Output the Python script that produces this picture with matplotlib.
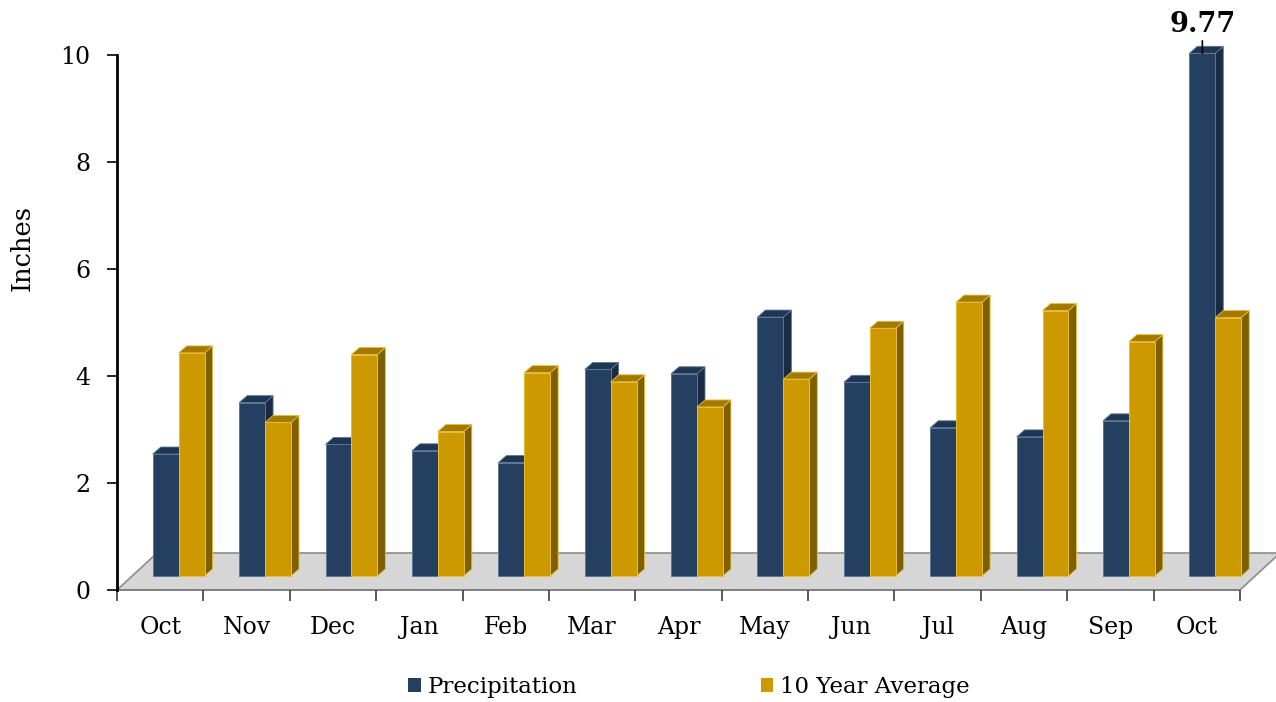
import matplotlib
matplotlib.use('Agg')
import matplotlib.pyplot as plt
from matplotlib.patches import Polygon, Patch
from matplotlib.transforms import ScaledTranslation, IdentityTransform
import numpy as np

# monthly rainfall, inches
months = ['Oct', 'Nov', 'Dec', 'Jan', 'Feb', 'Mar', 'Apr',
          'May', 'Jun', 'Jul', 'Aug', 'Sep', 'Oct']
precipitation = [2.28, 3.24, 2.46, 2.34, 2.12, 3.86, 3.78,
                 4.84, 3.62, 2.77, 2.60, 2.90, 9.77]
ten_year_avg = [4.17, 2.87, 4.14, 2.70, 3.80, 3.63, 3.16,
                3.68, 4.63, 5.12, 4.96, 4.38, 4.83]
y_ticks = [0, 2, 4, 6, 8, 10]

NAVY = {'front': '#243F60', 'top': '#1E3553', 'side': '#192C44', 'edge': '#5D7797'}
GOLD = {'front': '#CC9900', 'top': '#A27A00', 'side': '#7F6000', 'edge': '#E8BC3A'}

FONT = 'DejaVu Serif'
W, H = 1276, 702
fig = plt.figure(figsize=(W / 100, H / 100), dpi=100)
ax = fig.add_axes([117 / W, (H - 590) / H, (1240 - 117) / W, (590 - 55) / H])
ax.set_xlim(0, len(months))
ax.set_ylim(0, 10)

# pseudo-3d geometry in pixels
BAR_DX, BAR_DY = 18.5, 14    # bars sit part way back on the floor
DEPTH_DX, DEPTH_DY = 8, 7    # depth of each bar
FLOOR_DX, FLOOR_DY = 40, 37  # depth of the floor
BAR_W = 0.3


def shifted(dx, dy):
    return ax.transData + ScaledTranslation(dx / fig.dpi, dy / fig.dpi, fig.dpi_scale_trans)


bar_tr = shifted(BAR_DX, BAR_DY)


def to_px(x, y, dx=0, dy=0):
    p = bar_tr.transform((x, y))
    return (p[0] + dx, p[1] + dy)


# floor
f0 = ax.transData.transform((0, 0))
f1 = ax.transData.transform((len(months), 0))
floor = Polygon([f0, f1, (f1[0] + FLOOR_DX, f1[1] + FLOOR_DY),
                 (f0[0] + FLOOR_DX, f0[1] + FLOOR_DY)],
                closed=True, facecolor='#D6D6D6', edgecolor='#8C8C8C', lw=1.2,
                transform=IdentityTransform(), clip_on=False, zorder=1)
ax.add_patch(floor)


def draw_bar(x0, h, col, z):
    x1 = x0 + BAR_W
    ax.bar(x0, h, width=BAR_W, align='edge', color=col['front'],
           edgecolor=col['edge'], linewidth=0.7, transform=bar_tr,
           clip_on=False, zorder=z + 0.2)
    side = [to_px(x1, 0), to_px(x1, 0, DEPTH_DX, DEPTH_DY),
            to_px(x1, h, DEPTH_DX, DEPTH_DY), to_px(x1, h)]
    top = [to_px(x0, h), to_px(x1, h), to_px(x1, h, DEPTH_DX, DEPTH_DY),
           to_px(x0, h, DEPTH_DX, DEPTH_DY)]
    ax.add_patch(Polygon(side, closed=True, facecolor=col['side'], edgecolor=col['edge'],
                         lw=0.6, transform=IdentityTransform(), clip_on=False, zorder=z))
    ax.add_patch(Polygon(top, closed=True, facecolor=col['top'], edgecolor=col['edge'],
                         lw=0.6, transform=IdentityTransform(), clip_on=False, zorder=z + 0.1))


for i in range(len(months)):
    draw_bar(i + 0.2, precipitation[i], NAVY, 2 + i)
    draw_bar(i + 0.5, ten_year_avg[i], GOLD, 2.5 + i)

# value callout on the last bar
ax.annotate(f'{precipitation[-1]:.2f}', xy=(12.35, precipitation[-1]), xycoords=bar_tr,
            xytext=(0, 11), textcoords='offset points', ha='center', va='bottom',
            fontsize=19.5, fontweight='bold', family=FONT,
            arrowprops=dict(arrowstyle='-', color='black', lw=1.2, shrinkA=0, shrinkB=0),
            zorder=40)

# axes styling
for s in ['top', 'right']:
    ax.spines[s].set_visible(False)
ax.spines['left'].set_linewidth(2)
ax.spines['left'].set_color('black')
ax.spines['bottom'].set_color('#7F7F7F')
ax.spines['bottom'].set_linewidth(1.3)
ax.spines['bottom'].set_zorder(1.5)

ax.set_yticks(y_ticks)
ax.set_yticklabels([str(t) for t in y_ticks], family=FONT, fontsize=17)
ax.tick_params(axis='y', length=7, width=1.2, color='black', pad=12)

ax.set_xticks(np.arange(len(months) + 1))
ax.set_xticklabels([])
ax.tick_params(axis='x', which='major', length=8, width=1.2, color='#404040')
ax.set_xticks(np.arange(len(months)) + 0.5, minor=True)
ax.set_xticklabels(months, minor=True, family=FONT, fontsize=17)
ax.tick_params(axis='x', which='minor', length=0, pad=19)

fig.text(22 / W, 1 - 248 / H, 'Inches', rotation=90, ha='center', va='center',
         family=FONT, fontsize=18.5)

handles = [Patch(facecolor=NAVY['front'], edgecolor='none'),
           Patch(facecolor=GOLD['front'], edgecolor='none')]
fig.legend(handles, ['Precipitation', '10 Year Average'], loc='center',
           bbox_to_anchor=(689 / W, 1 - 687 / H), ncol=2, frameon=False,
           prop={'family': FONT, 'size': 16.5}, handlelength=0.55, handleheight=0.55,
           handletextpad=0.3, columnspacing=8.0)

fig.savefig('out.png', dpi=100)
